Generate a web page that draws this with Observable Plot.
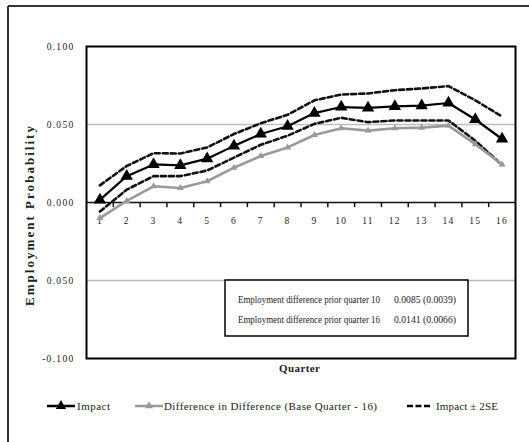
<!DOCTYPE html>
<html>
<head>
<meta charset="utf-8">
<script src="https://cdn.jsdelivr.net/npm/d3@7"></script>
<script src="https://cdn.jsdelivr.net/npm/@observablehq/plot@0.6"></script>
<style>
  body { margin: 0; background: #fff; }
  #wrap { position: relative; width: 529px; height: 442px; overflow: hidden; background: #fff; font-family: "Liberation Serif", "DejaVu Serif", serif; }
  #chart, #overlay { position: absolute; left: 0; top: 0; }
  #chart svg text { letter-spacing: 1.3px; }
</style>
</head>
<body>
<div id="wrap">
  <div id="chart"></div>
  <svg id="overlay" width="529" height="442"></svg>
</div>
<script>
// ---- data ----
const quarters = [1,2,3,4,5,6,7,8,9,10,11,12,13,14,15,16];
const impact = [0.0017,0.0169,0.0244,0.0238,0.0281,0.0363,0.0439,0.0489,0.0573,0.0612,0.0606,0.0616,0.0621,0.0638,0.0532,0.0407];
const did    = [-0.0100,0.0010,0.0104,0.0093,0.0136,0.0223,0.0298,0.0353,0.0433,0.0476,0.0461,0.0476,0.0480,0.0493,0.0374,0.0244];
const upper  = [0.0110,0.0234,0.0316,0.0314,0.0353,0.0439,0.0508,0.0562,0.0655,0.0692,0.0699,0.0720,0.0731,0.0746,0.0655,0.0551];
const lower  = [-0.0058,0.0082,0.0169,0.0169,0.0205,0.0288,0.0370,0.0428,0.0504,0.0543,0.0515,0.0526,0.0526,0.0526,0.0396,0.0240];
const yTicks = [0.1, 0.05, 0, -0.05, -0.1];
const yTickLabels = ["0.100", "0.050", "0.000", "0.050", "-0.100"];
const gridVals = [0.05, -0.05];
const tickBounds = [1.5,2.5,3.5,4.5,5.5,6.5,7.5,8.5,9.5,10.5,11.5,12.5,13.5,14.5,15.5];
const noteLabels = ["Employment difference prior quarter 10", "Employment difference prior quarter 16"];
const noteValues = ["0.0085 (0.0039)", "0.0141 (0.0066)"];
const legendLabels = ["Impact", "Difference in Difference (Base Quarter - 16)", "Impact \u00B1 2SE"];

const rows = quarters.map((q, i) => ({q, impact: impact[i], did: did[i], upper: upper[i], lower: lower[i]}));

const chart = Plot.plot({
  width: 529,
  height: 380,
  marginLeft: 86,
  marginRight: 14,
  marginTop: 46,
  marginBottom: 22,
  style: { fontFamily: "Liberation Serif", fontSize: "9px", color: "#222", background: "transparent" },
  x: { domain: [0.5, 16.5], axis: null },
  y: { domain: [-0.1, 0.1], axis: null },
  marks: [
    Plot.ruleY(gridVals, { stroke: "#bdbdbd", strokeWidth: 1.5 }),
    Plot.axisY(yTicks, { tickSize: 0, tickPadding: 12, fontSize: 9.5, fill: "#222",
      tickFormat: d => yTickLabels[yTicks.indexOf(d)] }),
    Plot.ruleY([0], { stroke: "#111", strokeWidth: 1.5 }),
    Plot.ruleX(tickBounds, { x: d => d, y1: 0, y2: -0.0033, stroke: "#111", strokeWidth: 1.5 }),
    Plot.text(quarters, { x: d => d, y: 0, text: d => String(d), dy: 18, fontSize: 9.5, fill: "#222" }),
    Plot.line(rows, { x: "q", y: "upper", stroke: "#111", strokeWidth: 2.6, strokeDasharray: "5,3" }),
    Plot.line(rows, { x: "q", y: "lower", stroke: "#111", strokeWidth: 2.6, strokeDasharray: "5,3" }),
    Plot.line(rows, { x: "q", y: "did", stroke: "#9a9a9a", strokeWidth: 2.6 }),
    Plot.dot(rows, { x: "q", y: "did", symbol: "triangle", r: 2.6, fill: "#9a9a9a", stroke: "none" }),
    Plot.line(rows, { x: "q", y: "impact", stroke: "#000", strokeWidth: 2.2 }),
    Plot.dot(rows, { x: "q", y: "impact", symbol: "triangle", r: 4.6, fill: "#000", stroke: "none" }),
    Plot.frame({ stroke: "#000", strokeWidth: 2 })
  ]
});
document.getElementById("chart").appendChild(chart);

// ---- overlay: border, titles, note box, legend ----
const svg = d3.select("#overlay");
svg.append("line").attr("x1", 8).attr("x2", 529).attr("y1", 6).attr("y2", 6).attr("stroke", "#333").attr("stroke-width", 2);
svg.append("line").attr("x1", 8).attr("x2", 8).attr("y1", 6).attr("y2", 442).attr("stroke", "#333").attr("stroke-width", 2);

svg.append("text")
  .attr("transform", "translate(34,216) rotate(-90)")
  .attr("text-anchor", "middle")
  .attr("font-family", "Liberation Serif").attr("font-weight", "bold").attr("font-size", 13)
  .attr("textLength", 180).attr("lengthAdjust", "spacing")
  .attr("fill", "#222")
  .text("Employment Probability");

svg.append("text")
  .attr("x", 279).attr("y", 372)
  .attr("font-family", "Liberation Serif").attr("font-weight", "bold").attr("font-size", 11)
  .attr("textLength", 41).attr("lengthAdjust", "spacing")
  .attr("fill", "#222")
  .text("Quarter");

svg.append("rect").attr("x", 225).attr("y", 280).attr("width", 243).attr("height", 56)
  .attr("fill", "#fff").attr("stroke", "#000").attr("stroke-width", 1.5);
noteLabels.forEach((t, i) => {
  svg.append("text").attr("x", 238).attr("y", 303 + i * 19.5)
    .attr("font-family", "Liberation Serif").attr("font-size", 10).attr("fill", "#222")
    .attr("textLength", 142).attr("lengthAdjust", "spacingAndGlyphs").text(t);
  svg.append("text").attr("x", 394).attr("y", 303 + i * 19.5)
    .attr("font-family", "Liberation Serif").attr("font-size", 10).attr("fill", "#222")
    .attr("textLength", 62).attr("lengthAdjust", "spacingAndGlyphs").text(noteValues[i]);
});

const ly = 406;
const tri = (r) => d3.symbol(d3.symbolTriangle, Math.PI * r * r)();
svg.append("line").attr("x1", 47).attr("x2", 75).attr("y1", ly).attr("y2", ly).attr("stroke", "#000").attr("stroke-width", 2.5);
svg.append("path").attr("d", tri(3.8)).attr("transform", `translate(61,${ly})`).attr("fill", "#000");
svg.append("text").attr("x", 77).attr("y", ly + 4).attr("font-family", "Liberation Serif").attr("font-size", 11)
  .attr("fill", "#222").attr("textLength", 33).attr("lengthAdjust", "spacing").text(legendLabels[0]);
svg.append("line").attr("x1", 135).attr("x2", 163).attr("y1", ly).attr("y2", ly).attr("stroke", "#9a9a9a").attr("stroke-width", 2.5);
svg.append("path").attr("d", tri(3)).attr("transform", `translate(149,${ly})`).attr("fill", "#9a9a9a");
svg.append("text").attr("x", 164).attr("y", ly + 4).attr("font-family", "Liberation Serif").attr("font-size", 11)
  .attr("fill", "#222").attr("textLength", 213).attr("lengthAdjust", "spacing").text(legendLabels[1]);
svg.append("line").attr("x1", 407).attr("x2", 432).attr("y1", ly).attr("y2", ly).attr("stroke", "#000").attr("stroke-width", 2.6).attr("stroke-dasharray", "6,2.5");
svg.append("text").attr("x", 436).attr("y", ly + 4).attr("font-family", "Liberation Serif").attr("font-size", 11)
  .attr("fill", "#222").attr("textLength", 62).attr("lengthAdjust", "spacing").text(legendLabels[2]);
</script>
</body>
</html>
